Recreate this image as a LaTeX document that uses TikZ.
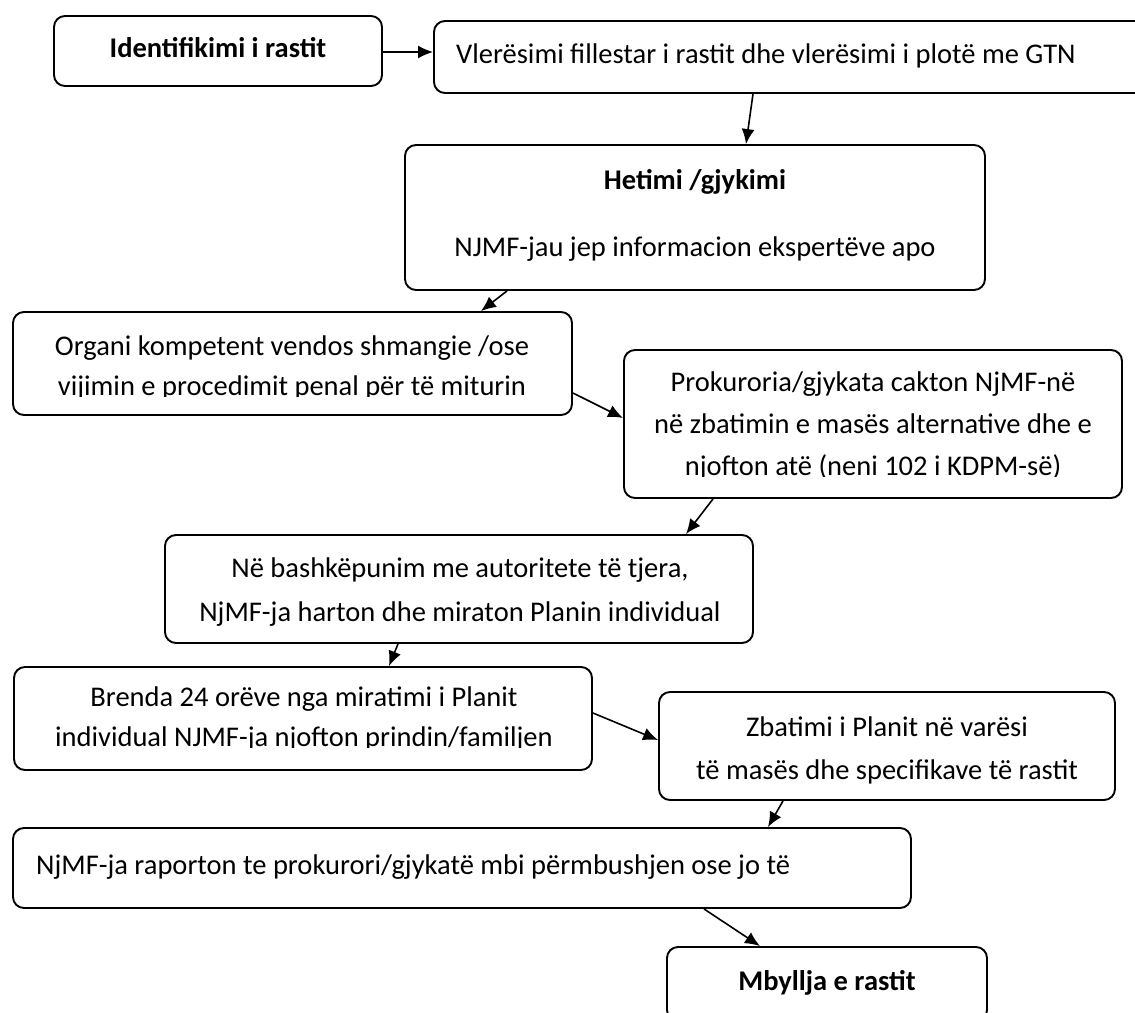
\documentclass[tikz,border=0pt]{standalone}
\usepackage{fontspec}
\setmainfont{Carlito}
\usetikzlibrary{arrows.meta}
\begin{document}
\begin{tikzpicture}[x=1pt,y=-1pt,
  box/.style={draw, line width=1.9pt, rounded corners=11pt, inner sep=0pt},
  txt/.style={inner sep=0pt, text depth=0pt, align=center, font=\fontsize{28.5}{42}\selectfont},
  arr/.style={line width=1.6pt, -{Latex[length=15pt,width=13pt]}}]
\useasboundingbox (0,0) rectangle (1135,1012);
\clip (0,0) rectangle (1135,1012);
% boxes
\node[box, minimum width=328pt, minimum height=70pt] (B1) at (218,51) {};
\node[box, minimum width=746pt, minimum height=72pt] (B2) at (807,57) {};
\node[box, minimum width=580pt, minimum height=145pt] (H) at (695,217.5) {};
\node[box, minimum width=559pt, minimum height=103pt] (O) at (292.5,363.5) {};
\node[box, minimum width=498pt, minimum height=148pt] (P) at (873,424) {};
\node[box, minimum width=588pt, minimum height=108pt] (N) at (459,589) {};
\node[box, minimum width=578pt, minimum height=103pt] (Br) at (303,718.5) {};
\node[box, minimum width=456pt, minimum height=108pt] (Z) at (887,746) {};
\node[box, minimum width=898pt, minimum height=80pt] (R) at (462,868) {};
\node[box, minimum width=320pt, minimum height=74pt] (M) at (827,984) {};
% texts
\node[txt, anchor=south] (T1) at (218,58) {\bfseries Identifikimi i rastit};
\node[txt, anchor=south west] (T2) at (456,63.5) {Vlerësimi fillestar i rastit dhe vlerësimi i plotë me GTN};
\node[txt, anchor=south] (TH) at (695,257) {\bfseries Hetimi /gjykimi\\[25pt] NJMF-jau jep informacion ekspertëve apo};
\begin{scope}
  \clip (0,0) rectangle (1135,396);
  \node[txt, anchor=south] (TO) at (292,396) {Organi kompetent vendos shmangie /ose\\[-2pt] vijimin e procedimit penal për të miturin};
\end{scope}
\begin{scope}
  \clip (0,0) rectangle (1135,476);
  \node[txt, anchor=south] (TP) at (873,476) {Prokuroria/gjykata cakton NjMF-në\\ në zbatimin e masës alternative dhe e\\ njofton atë (neni 102 i KDPM-së)};
\end{scope}
\node[txt, anchor=south] (TN) at (460,622) {Në bashkëpunim me autoritete të tjera,\\[2pt] NjMF-ja harton dhe miraton Planin individual};
\begin{scope}
  \clip (0,0) rectangle (1135,747);
  \node[txt, anchor=south] (TBr) at (304,747) {Brenda 24 orëve nga miratimi i Planit\\[-2pt] individual NJMF-ja njofton prindin/familjen};
\end{scope}
\node[txt, anchor=south] (TZ) at (887,780) {Zbatimi i Planit në varësi\\[1pt] të masës dhe specifikave të rastit};
\node[txt, anchor=south west] (TR) at (36,875) {NjMF-ja raporton te prokurori/gjykatë mbi përmbushjen ose jo të};
\node[txt, anchor=south] (TM) at (827,991) {\bfseries Mbyllja e rastit};
% arrows
\draw[arr] (B1.east |- 0,52) -- (B2.west |- 0,52);
\draw[arr] (753,0 |- B2.south) -- (746,0 |- H.north);
\draw[arr] (507,0 |- H.south) -- (481,0 |- O.north);
\draw[arr] (O.east |- 0,393) -- (P.west |- 0,418);
\draw[arr] (713,0 |- P.south) -- (686,0 |- N.north);
\draw[arr] (398,0 |- N.south) -- (389,0 |- Br.north);
\draw[arr] (Br.east |- 0,713) -- (Z.west |- 0,740);
\draw[arr] (783,0 |- Z.south) -- (768,0 |- R.north);
\draw[arr] (704,0 |- R.south) -- (760,0 |- M.north);
\end{tikzpicture}
\end{document}
